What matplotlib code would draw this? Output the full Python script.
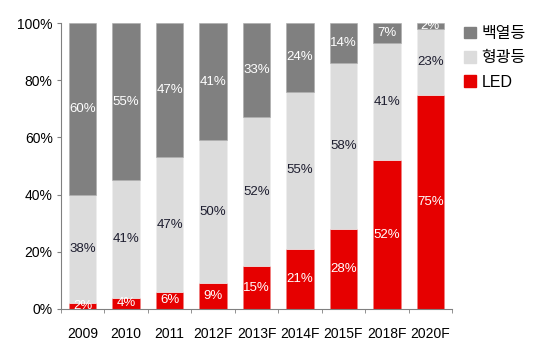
import numpy as np
import matplotlib
matplotlib.use("Agg")
import matplotlib.pyplot as plt
from matplotlib.patches import Patch

plt.rcParams["font.family"] = ["Liberation Sans", "Noto Sans CJK KR", "DejaVu Sans"]

years = ["2009", "2010", "2011", "2012F", "2013F", "2014F", "2015F", "2018F", "2020F"]
led = [2, 4, 6, 9, 15, 21, 28, 52, 75]
fluor = [38, 41, 47, 50, 52, 55, 58, 41, 23]
incand = [60, 55, 47, 41, 33, 24, 14, 7, 2]
names = ["백열등", "형광등", "LED"]

C_INC, C_FLU, C_LED = "#808080", "#dcdcdc", "#e60000"

fig = plt.figure(figsize=(5.35, 3.57), dpi=100)
ax = fig.add_axes([0.114, 0.1345, 0.731, 0.801])

x = np.arange(len(years))
w = 0.63
led = np.array(led); fluor = np.array(fluor); incand = np.array(incand)
bot2 = led + fluor
ax.bar(x, led, w, color=C_LED, edgecolor="#f08080", lw=0.4)
ax.bar(x, fluor, w, bottom=led, color=C_FLU, edgecolor="#eeeeee", lw=0.4)
ax.bar(x, 100 - bot2, w, bottom=bot2, color=C_INC, edgecolor="#aaaaaa", lw=0.4)

# 막대 안 라벨
for i in range(len(years)):
    ax.text(x[i], led[i] / 2, f"{led[i]}%", ha="center", va="center",
            color="white", fontsize=9.5)
    ax.text(x[i], led[i] + fluor[i] / 2, f"{fluor[i]}%", ha="center", va="center",
            color="#1e1e30", fontsize=9.5)
    ax.text(x[i], (bot2[i] + 100) / 2, f"{incand[i]}%", ha="center", va="center",
            color="white", fontsize=9.5)

ax.set_xlim(-0.5, len(years) - 0.5)
ax.set_ylim(0, 100)
ax.set_yticks(range(0, 101, 20))
ax.set_yticklabels([f"{v}%" for v in range(0, 101, 20)], fontsize=10)
ax.set_xticks(x)
ax.set_xticklabels(years, fontsize=10)
ax.set_xticks(np.arange(-0.5, len(years)), minor=True)
ax.tick_params(axis="x", which="major", length=0, pad=13)
ax.tick_params(axis="x", which="minor", length=3, color="#808080")
ax.tick_params(axis="y", length=3, color="#808080", pad=3)
for s in ("top", "right"):
    ax.spines[s].set_visible(False)
for s in ("left", "bottom"):
    ax.spines[s].set_color("#808080")

handles = [Patch(color=C_INC), Patch(color=C_FLU), Patch(color=C_LED)]
fig.legend(handles, names, loc="upper left", bbox_to_anchor=(0.855, 0.945),
           frameon=False, fontsize=11.5, handlelength=0.75, handleheight=0.75,
           handletextpad=0.35, labelspacing=0.58, borderaxespad=0)

fig.savefig("out.png", dpi=100)
